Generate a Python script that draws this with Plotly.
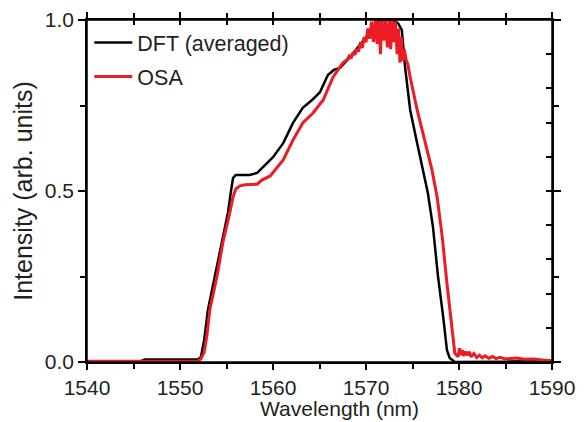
import plotly.graph_objects as go

# ---- data ----
wl_dft = [1540.0, 1545.7, 1546.2, 1551.1, 1551.9, 1552.25, 1552.6, 1553.0, 1553.75,
          1554.5, 1555.15, 1555.5, 1555.7, 1556.0, 1556.8, 1557.5, 1558.3, 1558.9,
          1560.0, 1561.1, 1562.15, 1563.2, 1564.2, 1565.05, 1565.9, 1566.55, 1567.2,
          1568.3, 1569.35, 1570.4, 1571.3, 1572.0, 1572.9, 1573.45, 1573.85, 1574.2,
          1574.75, 1575.5, 1576.1, 1576.65, 1577.2, 1577.75, 1578.3, 1578.7, 1579.0,
          1579.55, 1585.0, 1588.8, 1590.0]
int_dft = [0.002, 0.002, 0.007, 0.008, 0.007, 0.015, 0.064, 0.152, 0.254,
           0.348, 0.436, 0.503, 0.538, 0.547, 0.547, 0.547, 0.553, 0.570,
           0.599, 0.640, 0.699, 0.743, 0.766, 0.789, 0.839, 0.854, 0.860,
           0.892, 0.927, 0.965, 0.994, 1.0, 1.0, 0.99, 0.971, 0.863,
           0.737, 0.640, 0.561, 0.494, 0.395, 0.249, 0.132, 0.035, 0.012,
           0.0, 0.001, 0.002, 0.003]

wl_osa = [1540.0, 1545.0, 1551.9, 1552.25, 1552.6, 1552.9, 1553.2, 1554.0, 1554.6,
          1555.3, 1555.7, 1556.0, 1556.45, 1557.0, 1557.75, 1558.3, 1558.8, 1559.7,
          1561.1, 1562.15, 1563.2, 1564.3, 1565.4, 1566.45, 1567.5,
          1568.0, 1568.2, 1568.4, 1568.6, 1568.8, 1569.0, 1569.2, 1569.4, 1569.6,
          1569.8, 1570.0, 1570.2, 1570.4, 1570.6, 1570.8, 1571.0, 1571.2, 1571.4,
          1571.55, 1571.7, 1571.9, 1572.1, 1572.3, 1572.5, 1572.65, 1572.8, 1573.0,
          1573.15, 1573.35, 1573.5, 1573.65, 1573.8, 1573.95, 1574.1, 1574.3, 1574.5,
          1574.75, 1575.5, 1576.35, 1577.1, 1577.65, 1578.2, 1578.7, 1579.25, 1579.55,
          1579.9, 1580.05, 1580.2, 1580.35, 1580.5, 1580.7, 1580.9, 1581.1, 1581.3,
          1581.6, 1581.9, 1582.2, 1582.5, 1582.8, 1583.2, 1583.6, 1584.0, 1584.4,
          1585.0, 1586.2, 1587.0, 1588.0, 1589.0, 1590.0]
int_osa = [0.002, 0.002, 0.003, 0.009, 0.029, 0.079, 0.152, 0.254, 0.348,
           0.430, 0.482, 0.506, 0.515, 0.518, 0.518, 0.520, 0.532, 0.544,
           0.591, 0.649, 0.699, 0.728, 0.766, 0.833, 0.874,
           0.885, 0.895, 0.888, 0.905, 0.898, 0.915, 0.908, 0.935, 0.918,
           0.950, 0.935, 0.975, 0.945, 0.995, 0.935, 1.0, 0.93, 1.0,
           0.90, 1.0, 0.94, 1.0, 0.92, 1.0, 0.915, 1.0, 0.935,
           0.995, 0.90, 0.975, 0.875, 0.95, 0.88, 0.915, 0.885, 0.87,
           0.833, 0.737, 0.640, 0.561, 0.482, 0.365, 0.231, 0.102, 0.026,
           0.015, 0.04, 0.02, 0.035, 0.018, 0.03, 0.02, 0.03, 0.015,
           0.025, 0.013, 0.02, 0.012, 0.018, 0.011, 0.016, 0.01, 0.014,
           0.009, 0.012, 0.008, 0.009, 0.006, 0.004]

x_ticks = [1540, 1550, 1560, 1570, 1580, 1590]
y_ticks = [0.0, 0.5, 1.0]
x_range = [1540, 1590]
y_range = [0, 1]

FONT = "Liberation Sans, Arial, sans-serif"
TXT = "#231f20"

fig = go.Figure()
fig.add_trace(go.Scatter(x=wl_dft, y=int_dft, mode="lines", name="DFT (averaged)",
                         legendgroup="a", line=dict(color="black", width=2.5)))
fig.add_trace(go.Scatter(x=wl_osa, y=int_osa, mode="lines", name="OSA",
                         legendgroup="b", line=dict(color="#ed1c24", width=3)))
# invisible helper trace so the top / right tick axes are rendered
fig.add_trace(go.Scatter(x=[x_range[0]], y=[y_range[0]], xaxis="x2", yaxis="y2",
                         mode="lines", opacity=0, showlegend=False, hoverinfo="skip"))

tick_common = dict(showgrid=False, zeroline=False, tickcolor="black", tickwidth=1.5,
                   automargin=False)

fig.update_layout(
    # the page body adds an 8 px offset; size/margins compensate for it
    width=579, height=414,
    margin=dict(l=79, r=35, t=12, b=60),
    paper_bgcolor="white", plot_bgcolor="white",
    font=dict(family=FONT, size=21, color=TXT),
    showlegend=True,
    legend=dict(x=0.005, y=0.994, xanchor="left", yanchor="top",
                bgcolor="rgba(0,0,0,0)", font=dict(size=21.5, family=FONT, color=TXT),
                tracegroupgap=3, traceorder="grouped", itemwidth=38),
    xaxis=dict(range=x_range, tickvals=x_ticks, ticks="outside", ticklen=6,
               showline=True, mirror="all", linecolor="black", linewidth=1.5,
               minor=dict(dtick=5, tick0=1540, ticks="outside", ticklen=5,
                          tickwidth=1.5, tickcolor="black", showgrid=False),
               **tick_common),
    yaxis=dict(range=y_range, tickvals=y_ticks, tickformat=".1f", ticks="outside",
               ticklen=7, showline=True, mirror="all", linecolor="black", linewidth=1.5,
               minor=dict(dtick=0.25, tick0=0, ticks="outside", ticklen=5,
                          tickwidth=1.5, tickcolor="black", showgrid=False),
               title=dict(text="Intensity (arb. units)", standoff=5), **tick_common),
    xaxis2=dict(range=x_range, overlaying="x", side="top", anchor="y2",
                dtick=5, tick0=1540, ticks="inside", ticklen=5, showline=False,
                showticklabels=False, **tick_common),
    yaxis2=dict(range=y_range, overlaying="y", side="right", anchor="x2",
                dtick=0.1, tick0=0, ticks="inside", ticklen=6, showline=False,
                showticklabels=False, **tick_common),
    shapes=[dict(type="rect", xref="paper", yref="paper", x0=0, x1=1, y0=0, y1=1,
                 line=dict(color="black", width=1.5), fillcolor="rgba(0,0,0,0)",
                 layer="above")],
    annotations=[dict(text="Wavelength (nm)", xref="paper", yref="paper",
                      x=0.542, y=-0.137, xanchor="center", yanchor="middle",
                      showarrow=False, font=dict(size=21, family=FONT, color=TXT))],
)

fig.write_html("out.html")
